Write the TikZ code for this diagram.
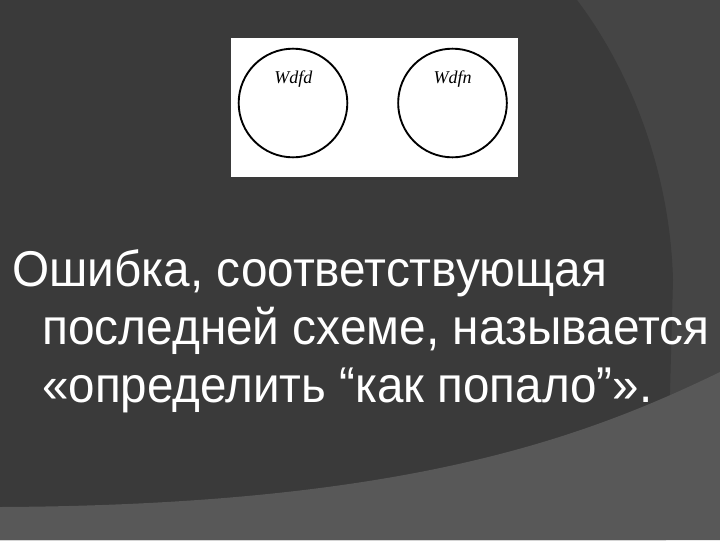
\documentclass[tikz,border=0pt]{standalone}
\usepackage{fontspec}
\setmainfont{Liberation Sans}
\newfontfamily\schemefont{Liberation Serif}
\usepackage{graphicx}

\definecolor{slidedark}{RGB}{58,58,58}
\definecolor{slideside}{RGB}{69,69,69}
\definecolor{slidebottom}{RGB}{88,88,88}

\tikzset{
  setcircle/.style={circle,draw=black,line width=1.4pt,minimum size=81.5pt,inner sep=0pt},
  setlabel/.style={inner sep=0pt,font=\schemefont\itshape\fontsize{13.5}{15}\selectfont},
  slideline/.style={anchor=base west,inner sep=0pt,text=white,font=\fontsize{35.25}{40}\selectfont}
}

\begin{document}
\begin{tikzpicture}[x=0.75pt,y=0.75pt,yscale=-1,xscale=1]
	\useasboundingbox (0,0) rectangle (720,540);
	
	%Background: side panel
	\fill [slideside] (0,0) rectangle (720,540);
	%Background: dark disc
	\fill [slidedark] (0,0) -- (577,0) .. controls (630,70) and (670,170) .. (673,280) -- (666,540) -- (0,540) -- cycle ;
	%Background: bottom band
	\fill [slidebottom] (0,507) .. controls (400,505) and (580,440) .. (720,372) -- (720,540) -- (0,540) -- cycle ;
	
	%Shape: Rectangle (white panel)
	\fill [white] (231,38) rectangle (518,177) ;
	
	%Shape: Circle
	\node [setcircle] (setd) at (293,103) {} ;
	%Shape: Circle
	\node [setcircle] (setn) at (452.5,103) {} ;
	%Text
	\node [setlabel] (labd) at (293.3,79.3) {Wdfd} ;
	%Text
	\node [setlabel] (labn) at (452.7,79.3) {Wdfn} ;
	
	%Text
	\node [slideline] (line1) at (12,286) {\resizebox{446.25pt}{1.07\height}{Ошибка, соответствующая}} ;
	%Text
	\node [slideline] (line2) at (42,344) {\resizebox{500.25pt}{1.07\height}{последней схеме, называется}} ;
	%Text
	\node [slideline] (line3) at (42,402) {\resizebox{457.5pt}{1.07\height}{«определить “как попало”».}} ;
	
\end{tikzpicture}
\end{document}
